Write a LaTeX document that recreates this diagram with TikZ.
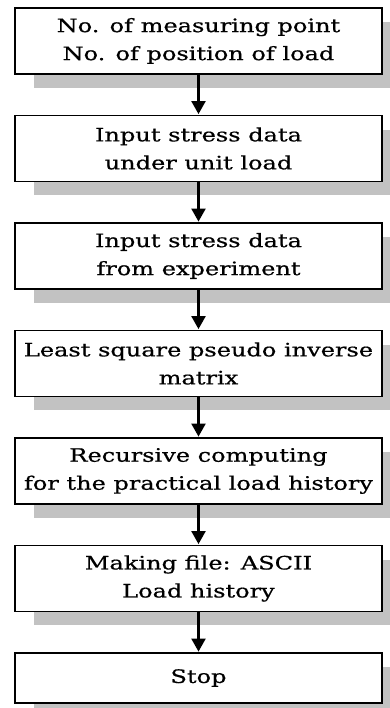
\documentclass[tikz,border=0pt]{standalone}
\usepackage{fontspec}
\newfontfamily\boxfont[FakeStretch=1.3,FakeBold=0.6]{DejaVu Serif}
\usetikzlibrary{arrows.meta,backgrounds}
\definecolor{shadowc}{gray}{0.76}
\tikzset{
  stepbox/.style={draw=black, line width=1.8pt, fill=white, minimum width=367pt,
    minimum height=66pt, inner sep=0pt, align=center,
    font=\boxfont\fontsize{18.5}{28}\selectfont},
  flow/.style={line width=2.2pt, -{Triangle[length=13pt,width=14pt]}, shorten >=0.5pt},
  boxshadow/.style={fill=shadowc}
}
\begin{document}
\begin{tikzpicture}[x=1pt,y=1pt]
\useasboundingbox (0,0) rectangle (390,708);
\clip (0,0) rectangle (390,708);
\node[stepbox] (b1) at (198.5,667) {No. of measuring point\\No. of position of load};
\node[stepbox] (b2) at (198.5,559.5) {Input stress data\\under unit load};
\node[stepbox] (b3) at (198.5,452) {Input stress data\\from experiment};
\node[stepbox] (b4) at (198.5,344.5) {Least square pseudo inverse\\matrix};
\node[stepbox] (b5) at (198.5,237) {Recursive computing\\for the practical load history};
\node[stepbox] (b6) at (198.5,129.5) {Making file: ASCII\\Load history};
\node[stepbox, minimum height=50pt] (b7) at (198.5,30) {Stop};
\begin{pgfonlayer}{background}
\foreach \b in {b1,b2,b3,b4,b5,b6,b7}{
  \fill[boxshadow] ([xshift=20pt,yshift=-13pt]\b.south west) rectangle ([xshift=9pt,yshift=-15pt]\b.north east);
}
\end{pgfonlayer}
\draw[flow] (b1.south) -- (b2.north);
\draw[flow] (b2.south) -- (b3.north);
\draw[flow] (b3.south) -- (b4.north);
\draw[flow] (b4.south) -- (b5.north);
\draw[flow] (b5.south) -- (b6.north);
\draw[flow] (b6.south) -- (b7.north);
\end{tikzpicture}
\end{document}
